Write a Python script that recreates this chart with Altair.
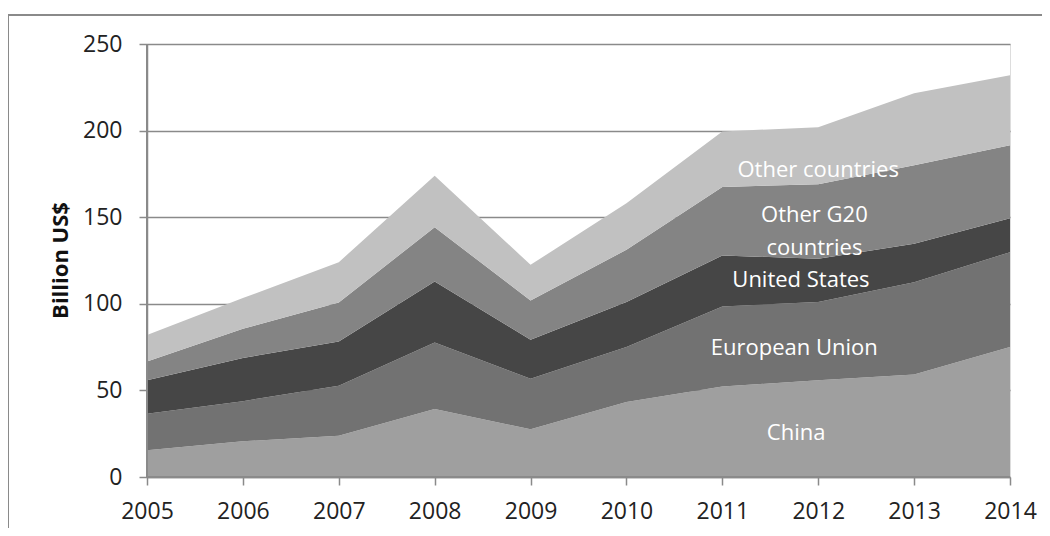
import altair as alt
import pandas as pd

years = [2005, 2006, 2007, 2008, 2009, 2010, 2011, 2012, 2013, 2014]
series = ["China", "European Union", "United States", "Other G20 countries", "Other countries"]
china = [15.4, 20.6, 23.8, 39.2, 27.5, 43.3, 52.3, 55.8, 59.2, 75.0]
eu = [21.1, 23.2, 28.9, 38.5, 29.2, 31.7, 46.2, 45.2, 53.3, 54.8]
us = [19.3, 24.9, 25.6, 35.2, 22.5, 26.0, 29.4, 25.0, 22.1, 19.6]
other_g20 = [10.9, 16.9, 22.5, 31.3, 22.7, 30.2, 39.6, 43.0, 45.4, 42.2]
other = [15.3, 17.7, 23.2, 29.8, 20.6, 26.8, 32.0, 33.0, 41.5, 40.4]
colors = ["#9f9f9f", "#727272", "#464646", "#848484", "#c1c1c1"]

label_text = ["Other countries", "Other G20", "countries", "United States", "European Union", "China"]
label_x = [2012.0, 2011.96, 2011.96, 2011.82, 2011.75, 2011.77]
label_y = [177.1, 151.1, 132.0, 113.6, 74.3, 25.2]

rows = []
for i, (name, vals) in enumerate(zip(series, [china, eu, us, other_g20, other])):
    for y, v in zip(years, vals):
        rows.append({"year": y, "series": name, "value": v, "order": i})
df = pd.DataFrame(rows)
labels = pd.DataFrame({"text": label_text, "x": label_x, "y": label_y})

FONT = "Open Sans"
GRID = "#8a8a8a"

x_enc = alt.X("year:Q", scale=alt.Scale(domain=[2005, 2014], nice=False, zero=False),
              axis=alt.Axis(values=years, format="d", title=None, grid=False,
                            domainColor=GRID, domainWidth=1.5, tickColor=GRID, tickWidth=1.5,
                            tickSize=8, labelFontSize=23, labelFont=FONT, labelColor="#222222",
                            labelPadding=15, labelFlush=False))
y_enc = alt.Y("value:Q", stack="zero", scale=alt.Scale(domain=[0, 250], nice=False),
              axis=alt.Axis(values=[0, 50, 100, 150, 200, 250], title="Billion US$",
                            grid=True, gridColor=GRID, gridWidth=1.5,
                            domainColor=GRID, domainWidth=1.5, tickColor=GRID, tickWidth=1.5,
                            tickSize=8, labelFontSize=23, labelFont=FONT, labelColor="#222222",
                            labelPadding=17, titleFont=FONT, titleFontSize=22, titleFontWeight="bold",
                            titleColor="#111111", titleX=-87, titleY=216, titleAngle=270,
                            titleAlign="center", titleBaseline="middle"))

areas = alt.Chart(df).mark_area(opacity=1, interpolate="linear").encode(
    x=x_enc,
    y=y_enc,
    color=alt.Color("series:N", scale=alt.Scale(domain=series, range=colors), legend=None),
    order=alt.Order("order:Q", sort="ascending"),
)

text = alt.Chart(labels).mark_text(color="white", font=FONT, fontSize=22, align="center",
                                   baseline="middle").encode(
    x=alt.X("x:Q"), y=alt.Y("y:Q"), text="text:N"
)

base_rule = alt.Chart(labels).mark_rule(color=GRID, strokeWidth=1.5).encode(y=alt.datum(0))
left_rule = alt.Chart(labels).mark_rule(color=GRID, strokeWidth=1.5).encode(x=alt.datum(2005))

frame_top = alt.Chart(labels).mark_rule(color=GRID, strokeWidth=1.5).encode(
    x=alt.value(-139), x2=alt.value(1000), y=alt.value(-29)
)
frame_left = alt.Chart(labels).mark_rule(color=GRID, strokeWidth=1.5).encode(
    x=alt.value(-139), y=alt.value(-29), y2=alt.value(700)
)

chart = alt.layer(areas, base_rule, left_rule, text, frame_top, frame_left).properties(
    width=863, height=433,
    autosize=alt.AutoSizeParams(type="none"),
    padding={"left": 139, "top": 36, "right": 32, "bottom": 51},
).configure_view(strokeWidth=0).configure(background="white")

chart.save("out.html", embed_options={"renderer": "svg", "actions": False})
